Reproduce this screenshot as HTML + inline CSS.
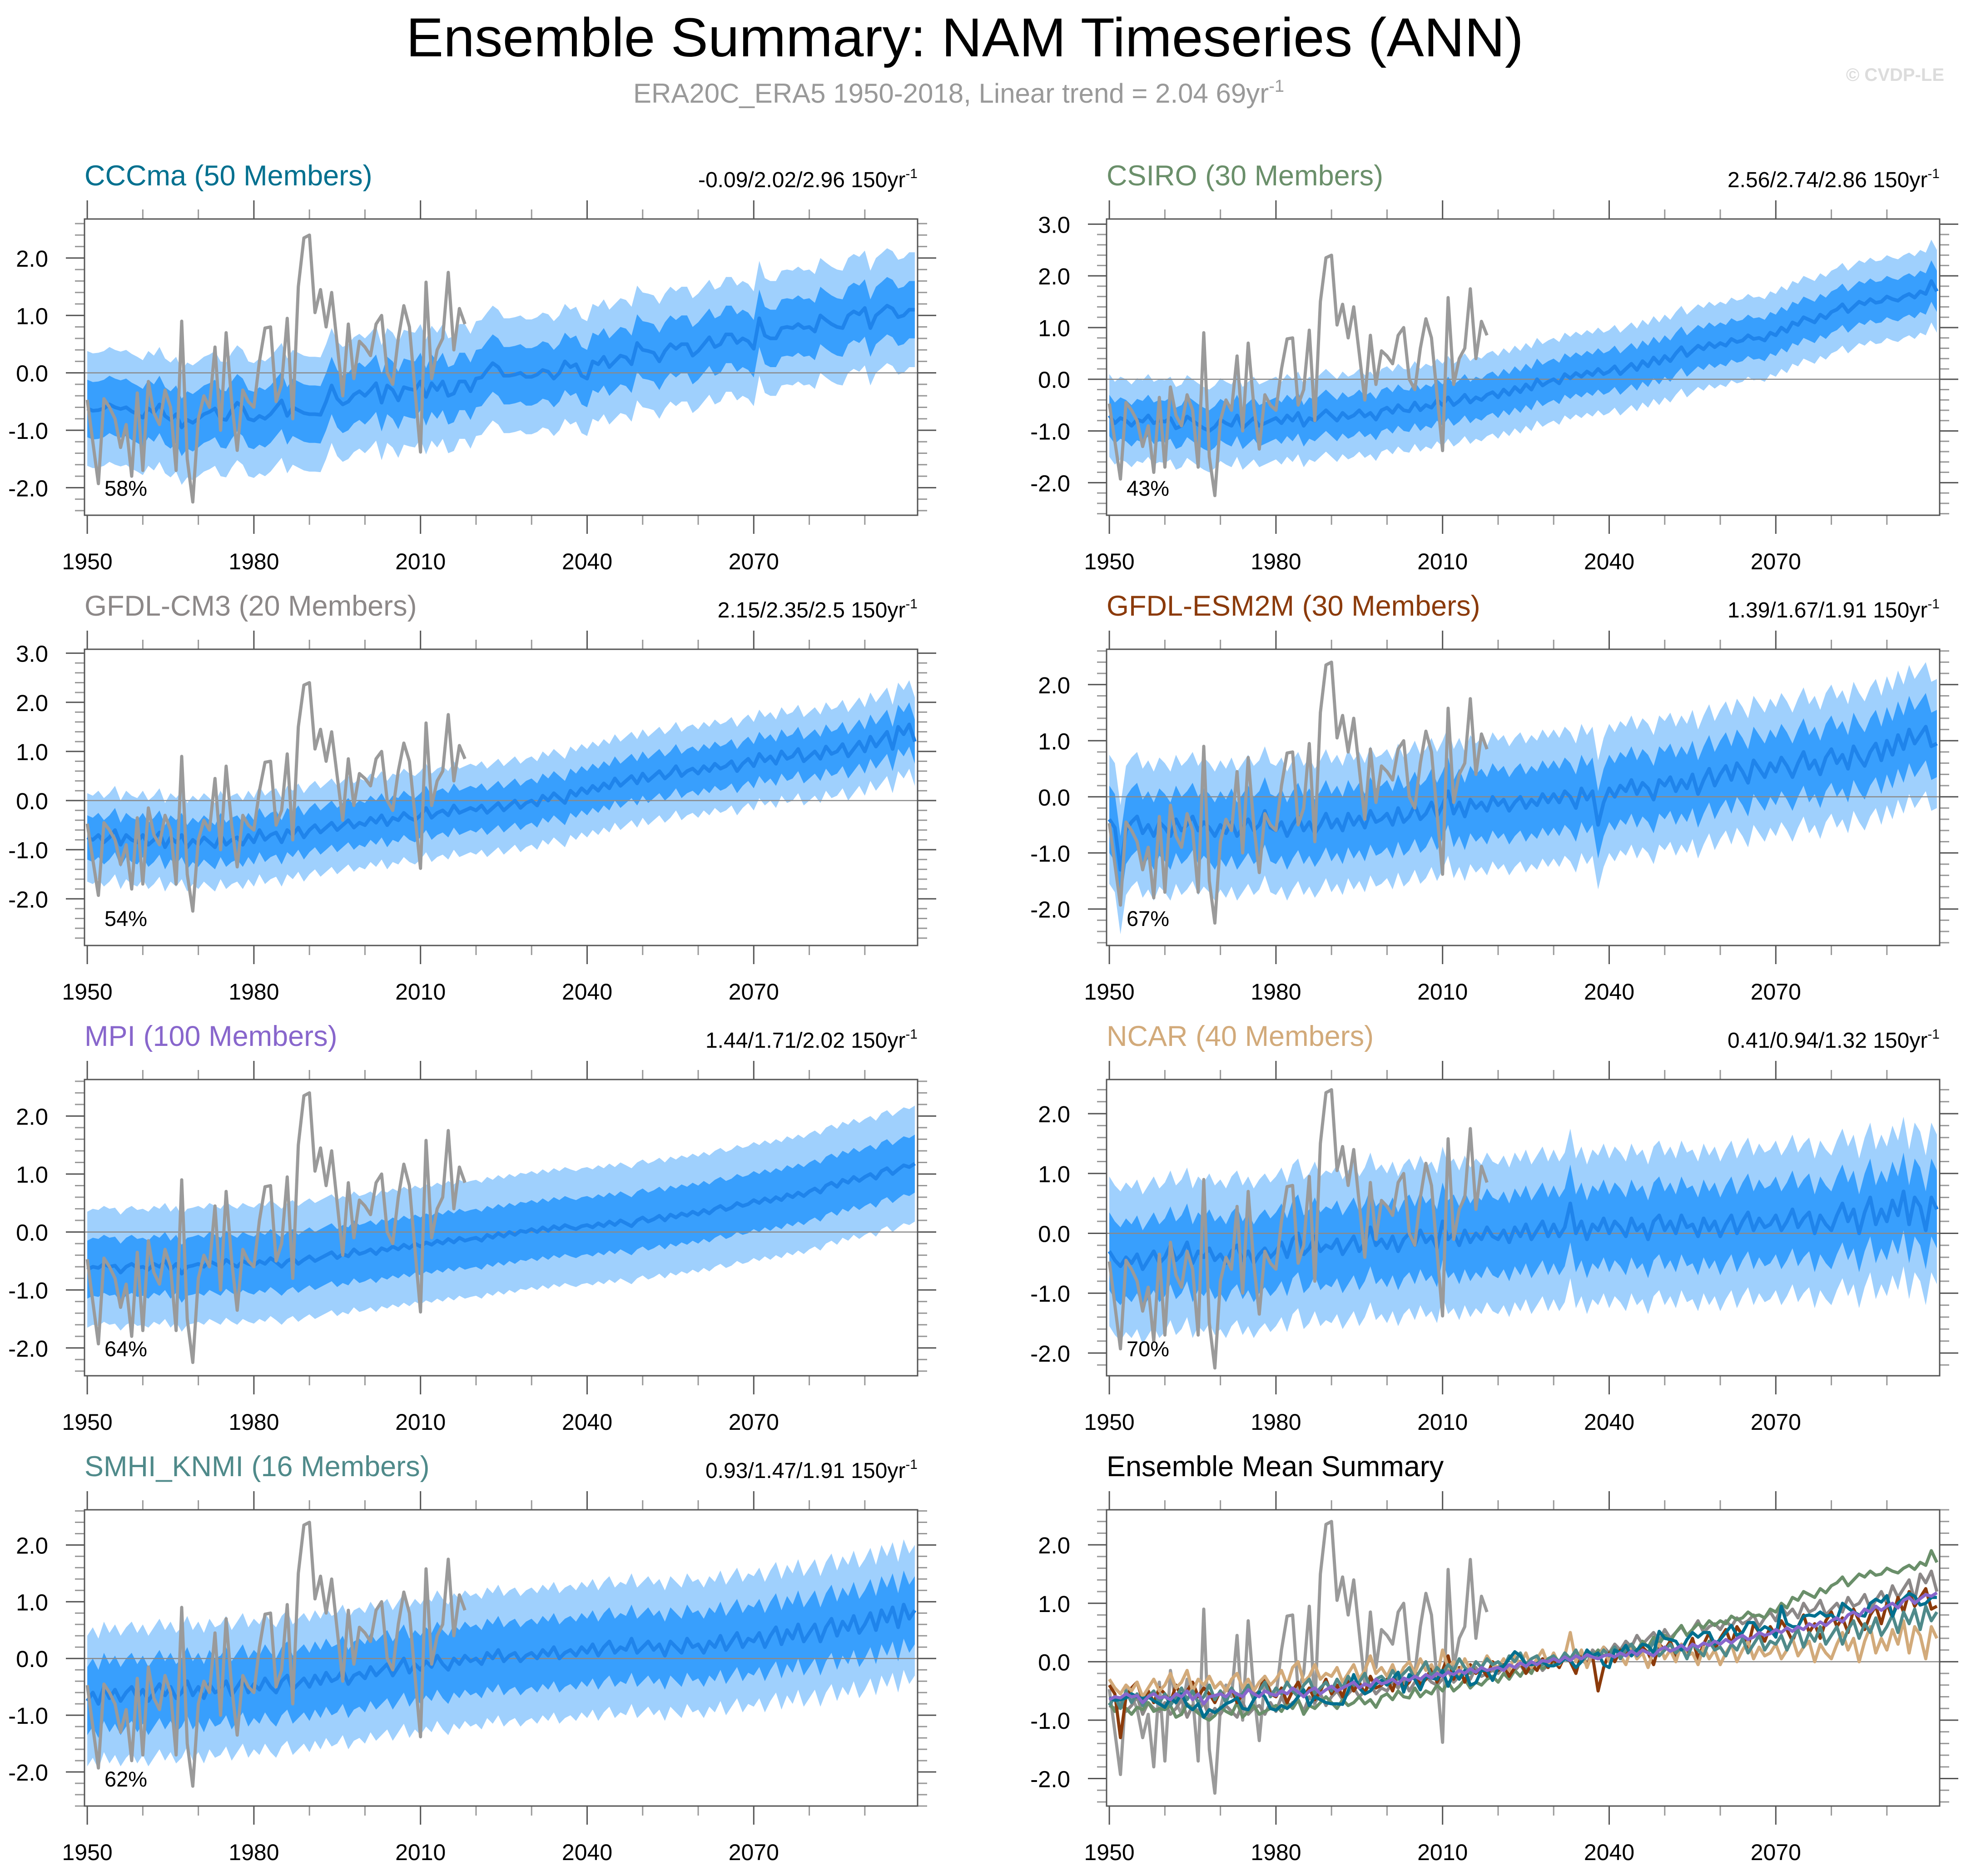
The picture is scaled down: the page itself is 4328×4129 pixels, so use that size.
<!DOCTYPE html>
<html><head><meta charset="utf-8"><title>Ensemble Summary: NAM Timeseries (ANN)</title>
<style>html,body{margin:0;padding:0;background:#fff;}svg{display:block;font-family:"Liberation Sans",sans-serif;}</style>
</head><body>
<svg id="chart" xmlns="http://www.w3.org/2000/svg" width="4328" height="4129" viewBox="0 0 4328 4129">
<rect x="0" y="0" width="4328" height="4129" fill="#fff"/>
<text x="2124" y="124" font-size="121" text-anchor="middle" textLength="2460" lengthAdjust="spacingAndGlyphs" fill="#000">Ensemble Summary: NAM Timeseries (ANN)</text>
<text x="1394" y="226" font-size="60" fill="#999">ERA20C_ERA5 1950-2018, Linear trend = 2.04 69yr<tspan dy="-24" font-size="38">-1</tspan></text>
<text x="4280" y="178" font-size="40" font-weight="bold" text-anchor="end" fill="#dcdcdc">© CVDP-LE</text>
</svg>
<script>
// ---------- data ----------
const obsValues = [-0.47,-1.2,-1.93,-0.45,-0.6,-0.8,-1.3,-0.9,-1.8,-0.35,-1.7,-0.15,-0.7,-0.9,-0.3,-0.6,-1.7,0.9,-1.5,-2.25,-0.8,-0.4,-0.6,0.45,-1.0,0.7,-0.5,-1.35,-0.3,-0.5,-0.6,0.2,0.78,0.8,-0.5,-0.2,0.95,-0.8,1.5,2.35,2.4,1.05,1.45,0.8,1.4,0.5,-0.4,0.85,-0.1,0.55,0.45,0.3,0.85,1.0,0.0,-0.2,0.6,1.17,0.8,-0.3,-1.38,1.58,-0.1,0.4,0.6,1.75,0.4,1.12,0.85];
const meanCCCma = [-0.62,-0.66,-0.65,-0.62,-0.55,-0.6,-0.63,-0.6,-0.67,-0.72,-0.78,-0.62,-0.7,-0.55,-0.75,-0.82,-0.72,-0.95,-0.82,-0.87,-0.8,-0.72,-0.68,-0.62,-0.8,-0.82,-0.65,-0.52,-0.6,-0.8,-0.83,-0.75,-0.8,-0.72,-0.6,-0.48,-0.75,-0.6,-0.65,-0.7,-0.72,-0.72,-0.73,-0.5,-0.22,-0.45,-0.55,-0.5,-0.38,-0.32,-0.4,-0.3,-0.18,-0.52,-0.22,-0.3,-0.48,-0.25,-0.28,-0.3,-0.15,-0.42,-0.18,-0.3,-0.15,-0.4,-0.36,-0.15,-0.15,-0.32,-0.1,-0.08,0.05,0.17,0.1,-0.05,-0.05,-0.03,0.0,-0.07,-0.07,-0.03,0.05,0.02,-0.1,0.0,0.2,0.1,0.15,-0.05,-0.1,0.2,0.15,0.28,0.1,0.2,0.3,0.27,0.15,0.52,0.4,0.38,0.35,0.2,0.38,0.5,0.42,0.5,0.5,0.3,0.38,0.5,0.62,0.45,0.5,0.67,0.67,0.52,0.6,0.55,0.42,0.95,0.65,0.6,0.6,0.78,0.8,0.78,0.85,0.78,0.8,0.72,1.0,0.92,0.85,0.8,0.78,1.0,1.07,1.02,1.13,0.78,1.0,1.08,1.17,1.12,0.97,1.0,1.1,1.1];
const meanCSIRO = [-0.7,-0.85,-0.75,-0.8,-0.9,-0.78,-0.82,-0.7,-0.85,-0.8,-0.82,-0.75,-0.95,-0.9,-0.72,-0.8,-0.88,-0.95,-1.0,-0.92,-0.78,-0.85,-0.9,-0.7,-0.95,-0.85,-0.75,-0.9,-0.85,-0.8,-0.75,-0.85,-0.7,-0.8,-0.65,-0.9,-0.75,-0.8,-0.7,-0.6,-0.7,-0.8,-0.65,-0.75,-0.7,-0.6,-0.72,-0.65,-0.78,-0.6,-0.55,-0.65,-0.5,-0.6,-0.62,-0.45,-0.6,-0.5,-0.55,-0.4,-0.5,-0.35,-0.5,-0.42,-0.3,-0.45,-0.35,-0.4,-0.3,-0.25,-0.35,-0.2,-0.3,-0.15,-0.25,-0.1,-0.2,0.0,-0.12,-0.05,0.0,-0.08,0.1,0.02,0.12,0.05,0.15,0.08,0.2,0.1,0.15,0.25,0.1,0.2,0.3,0.18,0.35,0.25,0.42,0.3,0.45,0.35,0.5,0.62,0.45,0.55,0.65,0.58,0.7,0.62,0.7,0.65,0.78,0.72,0.75,0.85,0.78,0.8,0.75,0.9,0.85,1.0,0.92,1.1,1.05,1.2,1.15,1.1,1.25,1.18,1.3,1.35,1.45,1.3,1.4,1.5,1.45,1.55,1.48,1.5,1.6,1.55,1.52,1.6,1.65,1.58,1.7,1.65,1.9,1.7];
const meanCM3 = [-0.75,-0.8,-0.7,-0.85,-0.75,-0.6,-0.9,-0.7,-0.8,-0.85,-0.7,-0.9,-0.8,-0.65,-0.95,-0.75,-0.85,-0.7,-0.95,-0.8,-0.9,-0.75,-0.85,-0.95,-0.7,-0.9,-0.8,-0.75,-0.9,-0.7,-0.85,-0.6,-0.8,-0.7,-0.65,-0.85,-0.6,-0.7,-0.55,-0.75,-0.6,-0.5,-0.65,-0.55,-0.45,-0.6,-0.5,-0.4,-0.55,-0.45,-0.5,-0.35,-0.45,-0.3,-0.5,-0.35,-0.4,-0.25,-0.35,-0.4,-0.3,-0.15,-0.35,-0.25,-0.2,-0.3,-0.1,-0.25,-0.2,-0.15,-0.2,-0.1,-0.25,-0.15,-0.05,-0.2,-0.1,0.0,-0.15,-0.05,0.0,-0.1,0.1,0.0,0.15,0.05,-0.05,0.2,0.1,0.25,0.15,0.3,0.2,0.35,0.25,0.45,0.3,0.4,0.5,0.35,0.55,0.4,0.5,0.6,0.45,0.55,0.7,0.5,0.6,0.65,0.55,0.7,0.6,0.75,0.65,0.7,0.8,0.6,0.75,0.85,0.7,0.95,0.8,0.9,0.75,1.0,0.85,0.9,1.05,0.8,0.9,1.0,0.85,1.1,0.95,1.0,1.15,0.9,1.05,1.2,1.0,1.3,1.1,1.25,1.4,1.05,1.5,1.35,1.55,1.2];
const meanESM2M = [-0.4,-0.55,-1.3,-0.6,-0.45,-0.35,-0.65,-0.5,-0.7,-0.45,-0.55,-0.7,-0.4,-0.6,-0.5,-0.35,-0.6,-0.45,-0.55,-0.7,-0.5,-0.65,-0.45,-0.7,-0.55,-0.4,-0.6,-0.5,-0.25,-0.55,-0.6,-0.45,-0.7,-0.5,-0.35,-0.6,-0.45,-0.65,-0.5,-0.3,-0.55,-0.4,-0.6,-0.3,-0.5,-0.35,-0.55,-0.25,-0.45,-0.4,-0.3,-0.5,-0.2,-0.45,-0.35,-0.15,-0.4,-0.3,-0.1,-0.35,-0.15,0.1,-0.3,-0.1,-0.35,-0.05,-0.2,-0.1,-0.25,0.0,-0.15,-0.05,-0.25,-0.1,0.0,-0.2,-0.05,-0.15,0.05,-0.1,0.05,-0.1,0.1,0.0,-0.2,0.15,-0.05,0.1,-0.5,-0.1,0.15,0.0,0.2,0.1,0.3,0.05,0.25,0.15,-0.05,0.3,0.2,0.35,0.1,0.3,0.15,0.4,0.05,0.3,0.5,0.2,0.4,0.55,0.3,0.6,0.45,0.25,0.65,0.5,0.35,0.6,0.45,0.7,0.55,0.35,0.6,0.8,0.5,0.65,0.4,0.7,0.85,0.6,0.75,0.5,0.9,0.7,0.55,0.8,0.95,0.65,1.0,0.75,1.1,0.85,1.2,0.95,1.1,1.25,0.9,0.95];
const meanMPI = [-0.65,-0.6,-0.62,-0.55,-0.6,-0.58,-0.7,-0.6,-0.55,-0.62,-0.6,-0.65,-0.55,-0.6,-0.5,-0.65,-0.55,-0.72,-0.6,-0.58,-0.55,-0.6,-0.5,-0.55,-0.6,-0.48,-0.55,-0.6,-0.5,-0.55,-0.58,-0.5,-0.55,-0.45,-0.52,-0.6,-0.5,-0.45,-0.55,-0.48,-0.42,-0.5,-0.45,-0.4,-0.35,-0.45,-0.38,-0.42,-0.3,-0.38,-0.35,-0.3,-0.38,-0.28,-0.32,-0.25,-0.3,-0.22,-0.28,-0.2,-0.25,-0.18,-0.22,-0.15,-0.2,-0.12,-0.18,-0.1,-0.15,-0.12,-0.1,-0.15,-0.05,-0.1,-0.02,-0.08,0.0,-0.05,0.02,0.0,0.05,0.0,0.08,0.02,0.1,0.05,0.12,0.08,0.05,0.1,0.12,0.08,0.15,0.1,0.18,0.12,0.2,0.15,0.1,0.2,0.25,0.18,0.22,0.28,0.2,0.3,0.25,0.32,0.28,0.35,0.3,0.38,0.32,0.4,0.45,0.38,0.42,0.5,0.45,0.48,0.55,0.5,0.58,0.52,0.6,0.55,0.65,0.6,0.68,0.62,0.7,0.75,0.68,0.8,0.85,0.78,0.9,0.85,0.95,0.88,0.95,1.0,0.92,1.05,1.1,1.0,1.08,1.15,1.12,1.18];
const meanNCAR = [-0.3,-0.45,-0.55,-0.4,-0.5,-0.35,-0.6,-0.45,-0.3,-0.5,-0.4,-0.2,-0.45,-0.35,-0.15,-0.5,-0.3,-0.4,-0.25,-0.45,-0.35,-0.5,-0.3,-0.2,-0.45,-0.3,-0.5,-0.35,-0.25,-0.4,-0.3,-0.15,-0.4,-0.1,0.0,-0.35,-0.25,-0.05,-0.3,-0.2,-0.25,-0.1,-0.35,-0.2,-0.05,-0.3,-0.15,0.1,-0.2,-0.1,-0.25,-0.05,-0.3,-0.1,0.0,-0.2,0.05,-0.15,-0.05,-0.25,0.2,-0.1,0.0,-0.2,0.05,-0.15,0.0,-0.1,0.1,-0.05,-0.1,0.05,-0.15,0.1,-0.05,0.15,-0.1,0.05,0.2,-0.05,0.15,-0.05,0.1,0.5,0.0,0.2,-0.1,0.15,0.05,0.25,0.0,0.2,0.1,-0.05,0.25,0.05,0.15,-0.1,0.2,0.3,0.05,0.2,0.0,0.3,0.1,0.15,-0.05,0.25,0.05,0.2,-0.05,0.15,0.3,0.0,0.2,0.35,0.05,0.25,0.1,0.15,0.3,0.05,0.2,0.4,0.1,0.25,0.35,0.0,0.3,0.15,0.05,0.3,0.5,0.2,0.4,0.0,0.35,0.6,0.15,0.4,0.2,0.55,0.3,0.7,0.15,0.6,0.45,0.05,0.6,0.4];
const meanSMHI = [-0.75,-0.6,-0.8,-0.5,-0.7,-0.55,-0.75,-0.6,-0.5,-0.7,-0.55,-0.75,-0.6,-0.45,-0.65,-0.5,-0.7,-0.6,-0.4,-0.65,-0.5,-0.7,-0.45,-0.6,-0.55,-0.4,-0.65,-0.5,-0.35,-0.6,-0.45,-0.55,-0.35,-0.5,-0.6,-0.4,-0.3,-0.55,-0.45,-0.35,-0.5,-0.3,-0.45,-0.25,-0.4,-0.35,-0.2,-0.45,-0.3,-0.25,-0.35,-0.15,-0.3,-0.2,-0.1,-0.3,-0.15,0.0,-0.25,-0.1,-0.2,-0.05,-0.15,0.05,-0.1,-0.2,0.0,-0.1,0.05,-0.05,0.0,-0.1,0.1,0.0,0.15,-0.05,0.05,0.1,-0.05,0.05,0.1,0.0,0.15,0.05,0.2,0.0,0.1,0.15,0.05,0.2,0.1,0.25,0.05,0.2,0.3,0.1,0.2,0.15,0.35,0.1,0.2,0.3,0.15,0.25,0.05,0.3,0.2,0.1,0.35,0.2,0.25,0.1,0.3,0.2,0.4,0.15,0.3,0.45,0.2,0.35,0.3,0.45,0.2,0.4,0.55,0.25,0.5,0.35,0.6,0.3,0.45,0.6,0.3,0.55,0.7,0.4,0.65,0.5,0.75,0.45,0.6,0.8,0.5,0.85,0.65,0.9,0.55,0.95,0.7,0.85];
const modelMeans = [meanCCCma, meanCSIRO, meanCM3, meanESM2M, meanMPI, meanNCAR, meanSMHI];
const modelTitles = ['CCCma (50 Members)','CSIRO (30 Members)','GFDL-CM3 (20 Members)','GFDL-ESM2M (30 Members)','MPI (100 Members)','NCAR (40 Members)','SMHI_KNMI (16 Members)'];
const trendLabels = ['-0.09/2.02/2.96','2.56/2.74/2.86','2.15/2.35/2.5','1.39/1.67/1.91','1.44/1.71/2.02','0.41/0.94/1.32','0.93/1.47/1.91'];
const pctLabels = ['58%','43%','54%','67%','64%','70%','62%'];
const innerSpread = [0.5,0.4,0.45,0.6,0.5,0.65,0.6];
const outerSpread = [1.0,0.8,0.9,1.15,1.0,1.25,1.15];
const firstYear = 1950;
const xTickLabels = ['1950','1980','2010','2040','2070'];

// ---------- layout (not data) ----------
const NS='http://www.w3.org/2000/svg';
const svg=document.getElementById('chart');
const modelColors=['#00708f','#6a8f6a','#8c8888','#8b3a0a','#8866cc','#d2aa7a','#4f8a8a'];
const panelY=[[2.68,-2.48],[3.1,-2.63],[3.08,-2.95],[2.63,-2.65],[2.63,-2.48],[2.57,-2.38],[2.62,-2.6],[2.6,-2.47]];
const colX=[186,2436], rowY=[482,1429,2376,3323], FW=1834, FH=652;

function el(tag,attrs,parent){const e=document.createElementNS(NS,tag);for(const k in attrs)e.setAttribute(k,attrs[k]);(parent||svg).appendChild(e);return e;}

function makeAxes(g,x0,y0,yMax,yMin){
  const sx=yr=>x0+(yr-(firstYear-0.5))/150*FW;
  const sy=v=>y0+(yMax-v)/(yMax-yMin)*FH;
  return {sx,sy};
}
function pathFrom(vals,ax){let d='';vals.forEach((v,i)=>{d+=(i?'L':'M')+ax.sx(firstYear+i).toFixed(1)+','+ax.sy(v).toFixed(1);});return d;}
function bandPath(vals,lo,hi,ax){let d='';vals.forEach((v,i)=>{d+=(i?'L':'M')+ax.sx(firstYear+i).toFixed(1)+','+ax.sy(v+hi).toFixed(1);});for(let i=vals.length-1;i>=0;i--){d+='L'+ax.sx(firstYear+i).toFixed(1)+','+ax.sy(vals[i]+lo).toFixed(1);}return d+'Z';}

function drawFrame(g,ax,x0,y0,yMax,yMin){
  // x ticks
  for(let yr=1950;yr<=2099;yr+=10){
    const major=((yr-1950)%30===0);const x=ax.sx(yr);const L=major?41:21;
    const t1=el('line',{x1:x,x2:x,y1:y0,y2:y0-L,stroke:major?'#555':'#999','stroke-width':3},g);
    
    
    const t2=el('line',{x1:x,x2:x,y1:y0+FH,y2:y0+FH+L,stroke:major?'#555':'#999','stroke-width':3},g);
    
    
  }
  xTickLabels.forEach(lbl=>{
    const t=el('text',{x:ax.sx(+lbl),y:y0+FH+119,'font-size':50,'text-anchor':'middle',fill:'#000'},g);
    t.textContent=lbl;
    
    
  });
  // y ticks
  const start=Math.ceil(yMin*5-1e-6), end=Math.floor(yMax*5+1e-6);
  for(let k=start;k<=end;k++){
    const v=k/5;const y=ax.sy(v);const major=(k%5===0);const L=major?41:21;
    const a=el('line',{x1:x0,x2:x0-L,y1:y,y2:y,stroke:major?'#555':'#999','stroke-width':3},g);
    
    
    const b=el('line',{x1:x0+FW,x2:x0+FW+L,y1:y,y2:y,stroke:major?'#555':'#999','stroke-width':3},g);
    
    
    if(major){
      const t=el('text',{x:x0-80,y:y+19,'font-size':51,'text-anchor':'end',fill:'#000'},g);
      t.textContent=v.toFixed(1);
      
      
    }
  }
  const f=el('rect',{x:x0,y:y0,width:FW,height:FH,fill:'none',stroke:'#555','stroke-width':3},g);
  
  
}
function zeroLine(g,ax,x0){
  const z=el('line',{x1:x0,x2:x0+FW,y1:ax.sy(0),y2:ax.sy(0),stroke:'#8a8a8a','stroke-width':2.5},g);
  
  
}
function obsLine(g,ax,w){
  const o=el('path',{d:pathFrom(obsValues,ax),fill:'none',stroke:'#9a9a9a','stroke-width':w,'stroke-linejoin':'round'},g);
  
  
}

for(let m=0;m<7;m++){
  const col=m%2,row=Math.floor(m/2);const x0=colX[col],y0=rowY[row];
  const [yMax,yMin]=panelY[m];
  const g=el('g',{});
  
  
  const ax=makeAxes(g,x0,y0,yMax,yMin);
  const outer=el('path',{d:bandPath(modelMeans[m],-outerSpread[m],outerSpread[m],ax),fill:'#9fd0fd'},g);
  
  
  const inner=el('path',{d:bandPath(modelMeans[m],-innerSpread[m],innerSpread[m],ax),fill:'#389ffd'},g);
  
  
  zeroLine(g,ax,x0);
  const mean=el('path',{d:pathFrom(modelMeans[m],ax),fill:'none',stroke:'#1f84eb','stroke-width':8,'stroke-linejoin':'round'},g);
  
  
  obsLine(g,ax,7);
  drawFrame(g,ax,x0,y0,yMax,yMin);
  const tt=el('text',{x:x0,y:y0-74,'font-size':63,fill:modelColors[m]},g);
  tt.textContent=modelTitles[m];
  
  
  const tr=el('text',{x:x0+FW,y:y0-70,'font-size':48,'text-anchor':'end',fill:'#000'},g);
  
  
  tr.appendChild(document.createTextNode(trendLabels[m]+' 150yr'));
  const sup=el('tspan',{dy:-20,'font-size':30},tr);sup.textContent='-1';
  const pc=el('text',{x:x0+44,y:y0+FH-43,'font-size':47,fill:'#000'},g);
  pc.textContent=pctLabels[m];
  
  
}
// summary panel
{
  const x0=colX[1],y0=rowY[3];const [yMax,yMin]=panelY[7];
  const g=el('g',{});
  
  
  const ax=makeAxes(g,x0,y0,yMax,yMin);
  zeroLine(g,ax,x0);
  obsLine(g,ax,7);
  const order=[2,1,3,5,6,0,4];
  order.forEach(m=>{
    const p=el('path',{d:pathFrom(modelMeans[m],ax),fill:'none',stroke:modelColors[m],'stroke-width':7,'stroke-linejoin':'round'},g);
    
    
  });
  drawFrame(g,ax,x0,y0,yMax,yMin);
  const tt=el('text',{x:x0,y:y0-74,'font-size':63,fill:'#000'},g);
  tt.textContent='Ensemble Mean Summary';
  
  
}
</script>
</body></html>
